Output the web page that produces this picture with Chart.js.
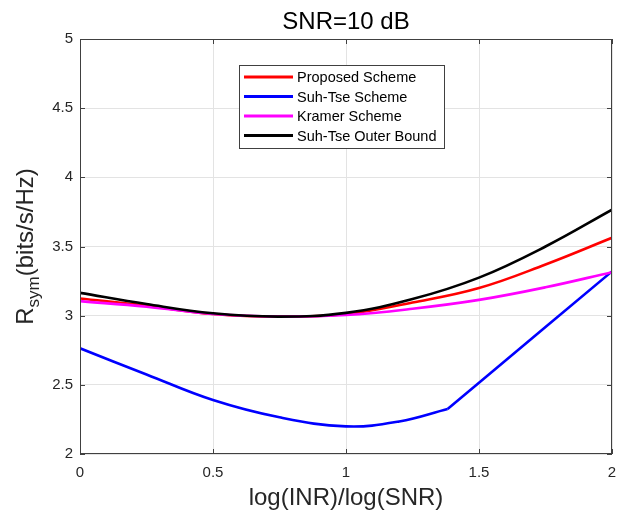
<!DOCTYPE html>
<html>
<head>
<meta charset="utf-8">
<script src="https://cdn.jsdelivr.net/npm/chart.js@4/dist/chart.umd.min.js"></script>
<style>
  html, body { margin: 0; padding: 0; background: #fff; }
  #wrap { width: 619px; height: 514px; }
</style>
</head>
<body>
<div id="wrap"><canvas id="chart"></canvas></div>
<script>
// values
const xVals = [0, 0.25, 0.5, 0.75, 1, 1.25, 1.5, 1.75, 2];
const proposed = [3.124, 3.072, 3.012, 2.993, 3.012, 3.095, 3.2, 3.37, 3.563];
const kramer = [3.105, 3.065, 3.012, 2.993, 3.005, 3.05, 3.114, 3.205, 3.314];
const outerBound = [3.165, 3.084, 3.017, 2.993, 3.02, 3.12, 3.275, 3.50, 3.766];
// Suh-Tse has a kink near 1.38: curved part, then straight part
const suhTseX = [0, 0.25, 0.5, 0.75, 1, 1.2, 1.382];
const suhTse = [2.764, 2.575, 2.39, 2.265, 2.20, 2.235, 2.325];
const suhTseLineX = [1.382, 1.5, 1.75, 2];
const suhTseLine = [2.325, 2.515, 2.918, 3.32];

const xTicks = [0, 0.5, 1, 1.5, 2];
const yTicks = [2, 2.5, 3, 3.5, 4, 4.5, 5];
const seriesNames = ['Proposed Scheme', 'Suh-Tse Scheme', 'Kramer Scheme', 'Suh-Tse Outer Bound'];
const seriesColors = ['#ff0000', '#0000ff', '#ff00ff', '#000000'];

const FONT = '"Liberation Sans", Arial, sans-serif';
const pts = (xs, ys) => xs.map((x, i) => ({ x, y: ys[i] }));

function line(data, color, order, curved) {
  return {
    data, borderColor: color, backgroundColor: color, borderWidth: 2.6,
    pointRadius: 0, fill: false, order,
    tension: curved ? 0.4 : 0
  };
}

const matlabAxes = {
  id: 'matlabAxes',
  afterDatasetsDraw(chart) {
    const { ctx, chartArea: a, scales: { x, y } } = chart;
    ctx.save();
    ctx.strokeStyle = '#404040';
    ctx.lineWidth = 1;
    ctx.strokeRect(a.left + 0.5, a.top + 0.5, a.right - a.left - 1, a.bottom - a.top - 1);
    ctx.beginPath();
    xTicks.forEach(v => {
      const px = Math.round(x.getPixelForValue(v)) + 0.5;
      ctx.moveTo(px, a.bottom); ctx.lineTo(px, a.bottom - 5);
      ctx.moveTo(px, a.top); ctx.lineTo(px, a.top + 5);
    });
    yTicks.forEach(v => {
      const py = Math.round(y.getPixelForValue(v)) + 0.5;
      ctx.moveTo(a.left, py); ctx.lineTo(a.left + 5, py);
      ctx.moveTo(a.right, py); ctx.lineTo(a.right - 5, py);
    });
    ctx.stroke();

    // legend box
    const lx = 239, ly = 65, lw = 205, lh = 83;
    ctx.fillStyle = '#fff';
    ctx.fillRect(lx, ly, lw, lh);
    ctx.strokeStyle = '#404040';
    ctx.strokeRect(lx + 0.5, ly + 0.5, lw, lh);
    ctx.font = '14.5px ' + FONT;
    ctx.textBaseline = 'middle';
    ctx.textAlign = 'left';
    seriesNames.forEach((name, i) => {
      const ry = 77 + i * 19.5;
      ctx.strokeStyle = seriesColors[i];
      ctx.lineWidth = 3;
      ctx.beginPath(); ctx.moveTo(244, ry); ctx.lineTo(293, ry); ctx.stroke();
      ctx.fillStyle = '#000';
      ctx.fillText(name, 297, ry + 1);
    });

    // titles
    ctx.fillStyle = '#000';
    ctx.textAlign = 'center';
    ctx.textBaseline = 'alphabetic';
    ctx.font = '24px ' + FONT;
    const cx = (a.left + a.right) / 2;
    ctx.fillText('SNR=10 dB', cx, 29);
    ctx.fillStyle = '#262626';
    ctx.fillText('log(INR)/log(SNR)', cx, 505);

    // y title with subscript
    ctx.save();
    ctx.translate(33, (a.top + a.bottom) / 2);
    ctx.rotate(-Math.PI / 2);
    const big = '24px ' + FONT, small = '17px ' + FONT;
    ctx.font = big; const wR = ctx.measureText('R').width;
    const wRest = ctx.measureText('(bits/s/Hz)').width;
    ctx.font = small; const wSub = ctx.measureText('sym').width;
    let sx = -(wR + wSub + wRest) / 2;
    ctx.textAlign = 'left';
    ctx.font = big; ctx.fillText('R', sx, 0); sx += wR;
    ctx.font = small; ctx.fillText('sym', sx, 6); sx += wSub;
    ctx.font = big; ctx.fillText('(bits/s/Hz)', sx, 0);
    ctx.restore();
    ctx.restore();
  }
};

new Chart(document.getElementById('chart'), {
  type: 'line',
  data: {
    datasets: [
      line(pts(xVals, proposed), seriesColors[0], 3, true),
      line(pts(suhTseX, suhTse), seriesColors[1], 2, true),
      line(pts(suhTseLineX, suhTseLine), seriesColors[1], 2, false),
      line(pts(xVals, kramer), seriesColors[2], 1, true),
      line(pts(xVals, outerBound), seriesColors[3], 0, true)
    ]
  },
  options: {
    responsive: true,
    maintainAspectRatio: false,
    animation: false,
    layout: { padding: { top: 39, right: 7, left: 0, bottom: 0 } },
    plugins: { legend: { display: false }, title: { display: false }, tooltip: { enabled: false } },
    scales: {
      x: {
        type: 'linear', min: 0, max: 2,
        afterFit: s => { s.height = 60; s.paddingLeft = 0; s.paddingRight = 0; },
        afterBuildTicks: s => { s.ticks = xTicks.map(v => ({ value: v })); },
        grid: { color: '#e3e3e3', drawTicks: false },
        border: { display: false },
        ticks: { color: '#262626', font: { family: FONT, size: 15 }, padding: 10, maxRotation: 0,
                 callback: v => String(v) }
      },
      y: {
        type: 'linear', min: 2, max: 5,
        afterFit: s => { s.width = 80; s.paddingTop = 0; s.paddingBottom = 0; },
        afterBuildTicks: s => { s.ticks = yTicks.map(v => ({ value: v })); },
        grid: { color: '#e3e3e3', drawTicks: false },
        border: { display: false },
        ticks: { color: '#262626', font: { family: FONT, size: 15 }, padding: 7,
                 callback: v => String(v) }
      }
    }
  },
  plugins: [matlabAxes]
});
</script>
</body>
</html>
